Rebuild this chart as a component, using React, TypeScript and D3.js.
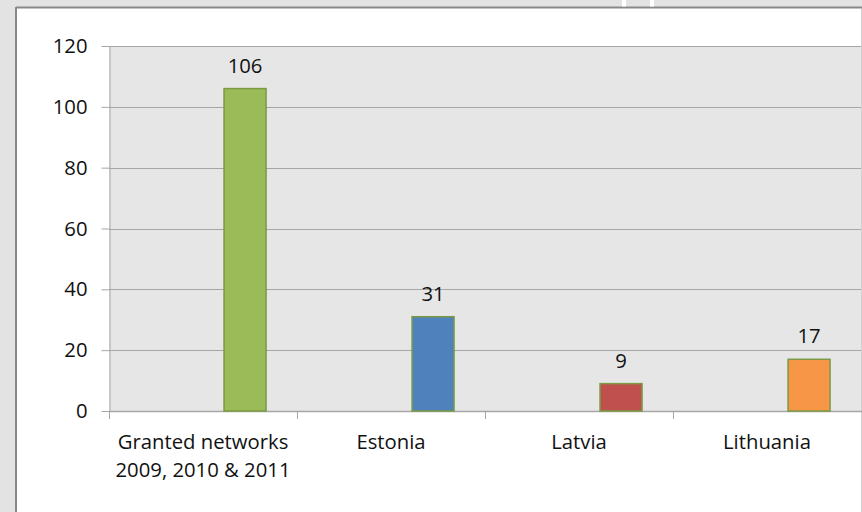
import { useEffect, useRef } from 'react';
import * as d3 from 'd3';

const categories = ['Granted networks|2009, 2010 & 2011', 'Estonia', 'Latvia', 'Lithuania'];
const values = [106, 31, 9, 17];
const barColors = ['#9bbb59', '#4f81bd', '#c0504d', '#f79646'];
const yTicks = [0, 20, 40, 60, 80, 100, 120];

const width = 862;
const height = 512;
const font = '"Open Sans", "Liberation Sans", sans-serif';
const fontSize = 20.3;

export default function App() {
  const svgRef = useRef<SVGSVGElement>(null);

  useEffect(() => {
    if (!svgRef.current) return;
    const svg = d3.select(svgRef.current);
    svg.selectAll('*').remove();

    const plot = { left: 109, right: 861, top: 46, bottom: 411 };

    // page background + frame
    svg.append('rect').attr('width', width).attr('height', height).attr('fill', '#e3e3e3');
    svg.append('rect')
      .attr('x', 16).attr('y', 8)
      .attr('width', width - 16).attr('height', height - 8)
      .attr('fill', '#ffffff');
    svg.append('line')
      .attr('x1', 16).attr('x2', width).attr('y1', 7.5).attr('y2', 7.5)
      .attr('stroke', '#888').attr('stroke-width', 2);
    svg.append('line')
      .attr('x1', 16).attr('x2', 16).attr('y1', 7).attr('y2', height)
      .attr('stroke', '#888').attr('stroke-width', 2);
    // little white gaps in the strip above
    [622, 650].forEach((gx) => {
      svg.append('rect').attr('x', gx).attr('y', 0).attr('width', 4).attr('height', 6.5).attr('fill', '#fff');
    });
    svg.append('line')
      .attr('x1', 861.5).attr('x2', 861.5).attr('y1', 9).attr('y2', height)
      .attr('stroke', '#d0d0d0').attr('stroke-width', 1);

    const x = d3.scaleBand<string>()
      .domain(categories)
      .range([plot.left, plot.right])
      .paddingInner(0)
      .paddingOuter(0);

    const y = d3.scaleLinear()
      .domain([0, 120])
      .range([plot.bottom, plot.top]);

    // plot area
    svg.append('rect')
      .attr('x', plot.left).attr('y', plot.top)
      .attr('width', plot.right - plot.left).attr('height', plot.bottom - plot.top)
      .attr('fill', '#e6e6e6');

    // gridlines
    svg.append('g')
      .selectAll('line')
      .data(yTicks.filter((t) => t > 0))
      .join('line')
      .attr('x1', plot.left).attr('x2', plot.right)
      .attr('y1', (d) => Math.round(y(d)) + 0.5).attr('y2', (d) => Math.round(y(d)) + 0.5)
      .attr('stroke', '#a6a6a6').attr('stroke-width', 1.2);

    // y axis
    const yAxis = svg.append('g')
      .attr('transform', `translate(${plot.left + 0.5},0)`)
      .call(d3.axisLeft(y).tickValues(yTicks).tickSize(8).tickPadding(14).tickSizeOuter(0));
    yAxis.select('.domain').attr('stroke', '#a6a6a6');
    yAxis.selectAll('.tick line').attr('stroke', '#a6a6a6');
    yAxis.selectAll('.tick text')
      .attr('font-family', font).attr('font-size', fontSize).attr('fill', '#111');

    // x axis baseline + ticks
    svg.append('line')
      .attr('x1', plot.left).attr('x2', width)
      .attr('y1', plot.bottom + 0.5).attr('y2', plot.bottom + 0.5)
      .attr('stroke', '#a6a6a6').attr('stroke-width', 1.5);
    svg.append('g')
      .selectAll('line')
      .data(categories)
      .join('line')
      .attr('x1', (d) => Math.round(x(d)!) + 0.5).attr('x2', (d) => Math.round(x(d)!) + 0.5)
      .attr('y1', plot.bottom).attr('y2', plot.bottom + 8)
      .attr('stroke', '#a6a6a6');

    const bw = x.bandwidth();
    const barOffset = bw * 0.612;
    const barWidth = bw * 0.2234;

    // bars
    svg.append('g')
      .selectAll('rect')
      .data(categories)
      .join('rect')
      .attr('x', (d) => x(d)! + barOffset)
      .attr('y', (_, i) => y(values[i]))
      .attr('width', barWidth)
      .attr('height', (_, i) => y(0) - y(values[i]))
      .attr('fill', (_, i) => barColors[i])
      .attr('stroke', '#7a9a43')
      .attr('stroke-width', 1.5);

    // data labels
    svg.append('g')
      .selectAll('text')
      .data(categories)
      .join('text')
      .attr('x', (d) => x(d)! + barOffset + barWidth / 2)
      .attr('y', (_, i) => y(values[i]) - 16)
      .attr('text-anchor', 'middle')
      .attr('font-family', font)
      .attr('font-size', fontSize)
      .attr('fill', '#111')
      .text((_, i) => values[i]);

    // category labels
    const catLabels = svg.append('g')
      .selectAll('text')
      .data(categories)
      .join('text')
      .attr('x', (d) => x(d)! + bw / 2)
      .attr('y', 449)
      .attr('text-anchor', 'middle')
      .attr('font-family', font)
      .attr('font-size', fontSize)
      .attr('fill', '#111');
    catLabels.each(function (d) {
      const t = d3.select(this);
      d.split('|').forEach((line, i) => {
        t.append('tspan')
          .attr('x', x(d)! + bw / 2)
          .attr('dy', i === 0 ? 0 : 27.5)
          .text(line);
      });
    });
  }, []);

  return (
    <div style={{ position: 'fixed', left: 0, top: 0 }}>
      <svg ref={svgRef} width={width} height={height} style={{ display: 'block' }} />
    </div>
  );
}
